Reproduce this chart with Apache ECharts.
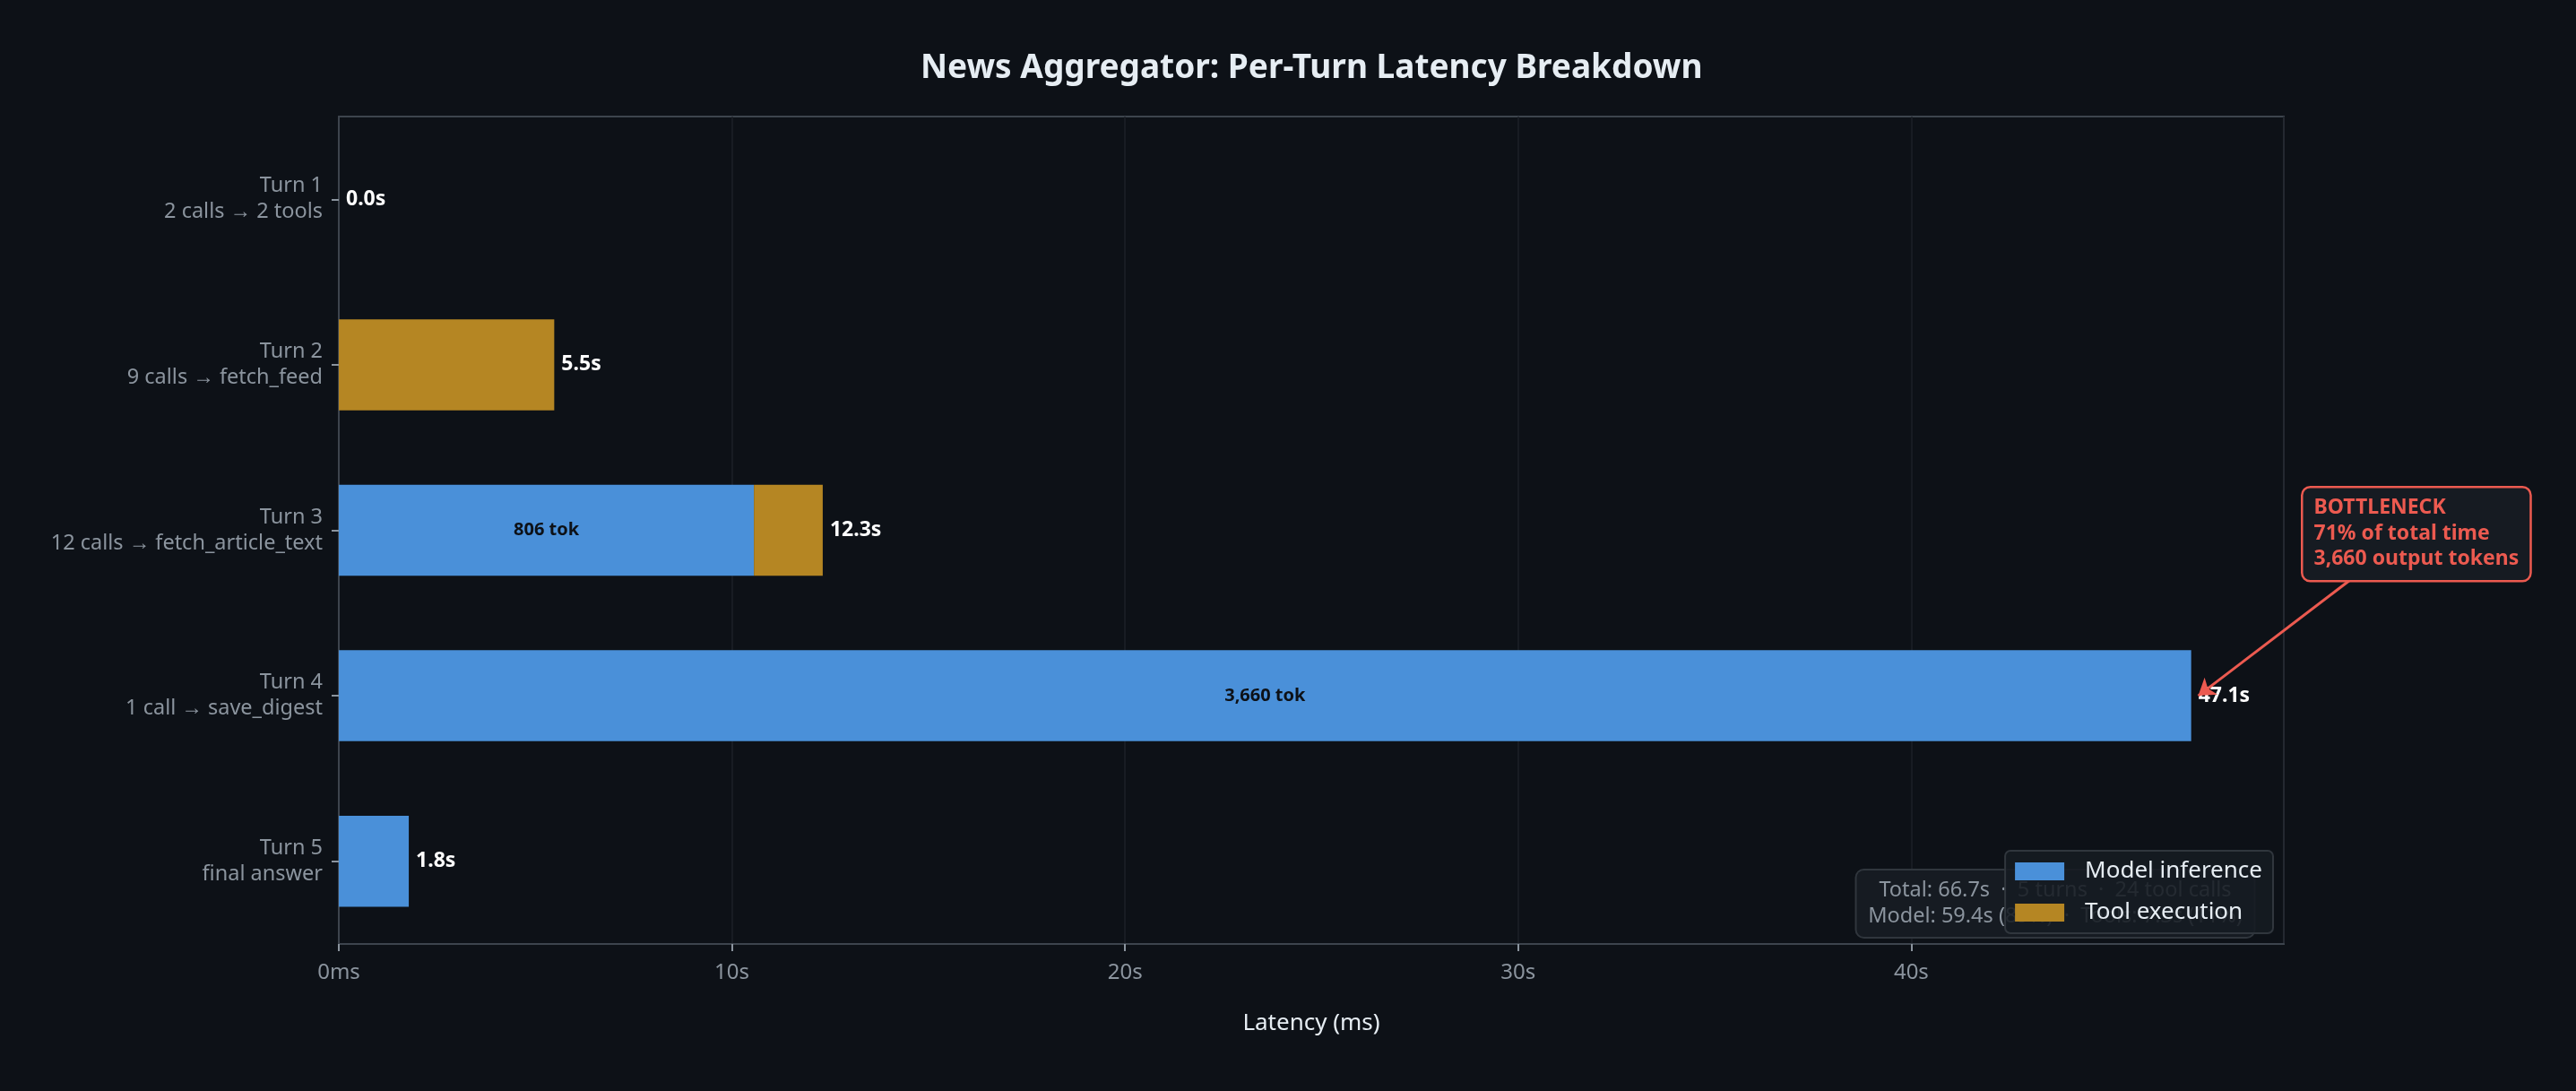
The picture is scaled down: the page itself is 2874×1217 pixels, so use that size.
<!DOCTYPE html>
<html>
<head>
<meta charset="utf-8">
<title>News Aggregator: Per-Turn Latency Breakdown</title>
<script src="https://cdn.jsdelivr.net/npm/echarts@6/dist/echarts.min.js"></script>
<style>
    html, body { margin: 0; padding: 0; background: #0d1117; }
    #grafico { width: 2874px; height: 1217px; }
</style>
</head>
<body>
<div id="grafico"></div>
<script>
// data (ms)
var turnos = ['Turn 1', 'Turn 2', 'Turn 3', 'Turn 4', 'Turn 5'];
var detalle = ['2 calls \u2192 2 tools', '9 calls \u2192 fetch_feed', '12 calls \u2192 fetch_article_text', '1 call \u2192 save_digest', 'final answer'];
var modelo_ms = [0, 0, 10560, 47120, 1780];
var tools_ms = [0, 5480, 1750, 0, 0];
var tokens = [null, null, 806, 3660, null];
var resumen = ['Total: 66.7s  \u00b7  5 turns  \u00b7  24 tool calls', 'Model: 59.4s (89%)  \u00b7  Tools: 7.3s (11%)'];
var nota = ['BOTTLENECK', '71% of total time', '3,660 output tokens'];

var fuente = '"Noto Sans", "Open Sans", sans-serif';
var azul = '#4a90d9';
var dorado = '#b58623';
var rojo = '#ec5a50';

var totales = [];
var ceros = [];
for (var i = 0; i < turnos.length; i++) {
    totales.push(modelo_ms[i] + tools_ms[i]);
    ceros.push(0);
}
var max_x = Math.max.apply(null, totales) * 1.05;

function formato_tick(v) {
    if (v === 0) return '0ms';
    return (v / 1000) + 's';
}

var myChart01 = echarts.init(document.getElementById('grafico'));

var option = {
    backgroundColor: '#0d1117',
    animation: false,
    textStyle: { fontFamily: fuente },
    title: {
        // centred over the plot area, not the page
        text: 'News Aggregator: Per-Turn Latency Breakdown',
        left: 1027,
        top: 58,
        padding: 0,
        textStyle: { color: '#e6edf3', fontSize: 37, fontWeight: 'bold', fontFamily: fuente }
    },
    grid: {
        left: 378, right: 326, top: 130, bottom: 164,
        show: true,
        borderColor: '#3d444d',
        borderWidth: 2,
        containLabel: false
    },
    legend: {
        data: ['Model inference', 'Tool execution'],
        orient: 'vertical',
        right: 338,
        bottom: 176,
        z: 10,
        itemWidth: 55,
        itemHeight: 20,
        itemGap: 20,
        icon: 'rect',
        padding: [10, 12, 10, 11],
        backgroundColor: 'rgba(22,27,34,0.88)',
        borderColor: '#30363d',
        borderWidth: 2,
        borderRadius: 6,
        textStyle: { color: '#e6edf3', fontSize: 26, fontFamily: fuente, padding: [0, 0, 0, 18] }
    },
    xAxis: {
        type: 'value',
        min: 0,
        max: max_x,
        interval: 10000,
        name: 'Latency (ms)',
        nameLocation: 'middle',
        nameGap: 76,
        nameTextStyle: { color: '#e6edf3', fontSize: 26, fontFamily: fuente },
        axisLine: { show: true, lineStyle: { color: '#3d444d', width: 2 } },
        axisTick: { show: true, length: 8, lineStyle: { color: '#8b949e', width: 2 } },
        axisLabel: {
            color: '#8b949e', fontSize: 24, margin: 20, fontFamily: fuente,
            showMaxLabel: false,
            formatter: formato_tick
        },
        splitLine: { show: true, lineStyle: { color: '#1c2128', width: 1.5 } }
    },
    yAxis: {
        type: 'category',
        inverse: true,
        data: turnos,
        axisLine: { show: true, lineStyle: { color: '#3d444d', width: 2 } },
        axisTick: { show: true, alignWithLabel: true, length: 8, lineStyle: { color: '#8b949e', width: 2 } },
        axisLabel: {
            margin: 18,
            fontFamily: fuente,
            formatter: function (v, idx) {
                return '{a|' + v + '}\n{a|' + detalle[idx] + '}';
            },
            rich: {
                a: { color: '#8b949e', fontSize: 23.5, lineHeight: 29, align: 'right', fontFamily: fuente }
            }
        },
        splitLine: { show: false }
    },
    graphic: [
        {
            // summary box, partly covered by the legend
            type: 'text',
            z: 1,
            x: 2293,
            y: 971,
            style: {
                text: resumen.join('\n'),
                fill: '#8b949e',
                font: '23.5px ' + fuente,
                lineHeight: 29,
                align: 'center',
                backgroundColor: '#161b22',
                borderColor: '#30363d',
                borderWidth: 2,
                borderRadius: 8,
                padding: [8, 14, 8, 14],
                width: 415
            }
        },
        {
            type: 'text',
            z: 20,
            left: 2567,
            top: 542,
            style: {
                text: nota.join('\n'),
                fill: rojo,
                font: 'bold 23px ' + fuente,
                lineHeight: 28.5,
                backgroundColor: '#161b22',
                borderColor: rojo,
                borderWidth: 2.5,
                borderRadius: 8,
                padding: [8, 12, 9, 12]
            }
        }
    ],
    series: [
        {
            name: 'Model inference',
            type: 'bar',
            stack: 'total',
            barWidth: '55%',
            itemStyle: { color: azul },
            data: modelo_ms,
            label: {
                show: true,
                position: 'inside',
                color: '#0d1117',
                fontSize: 20,
                fontWeight: 'bold',
                fontFamily: fuente,
                formatter: function (p) {
                    var t = tokens[p.dataIndex];
                    return t == null ? '' : t.toLocaleString('en-US') + ' tok';
                }
            },
            markLine: {
                silent: true,
                symbol: ['none', 'arrow'],
                symbolSize: 18,
                label: { show: false },
                lineStyle: { color: rojo, width: 3, type: 'solid' },
                data: [
                    [{ x: 2622, y: 647 }, { coord: [47300, 'Turn 4'] }]
                ]
            }
        },
        {
            name: 'Tool execution',
            type: 'bar',
            stack: 'total',
            barWidth: '55%',
            itemStyle: { color: dorado },
            data: tools_ms
        },
        {
            // zero-width segment, only used to put the total at the end of the stack
            name: 'total',
            type: 'bar',
            stack: 'total',
            barWidth: '55%',
            data: ceros,
            label: {
                show: true,
                position: 'right',
                distance: 8,
                color: '#ffffff',
                fontSize: 23,
                fontWeight: 'bold',
                fontFamily: fuente,
                formatter: function (p) {
                    return (totales[p.dataIndex] / 1000).toFixed(1) + 's';
                }
            }
        }
    ]
};

myChart01.setOption(option, true);
</script>
</body>
</html>
